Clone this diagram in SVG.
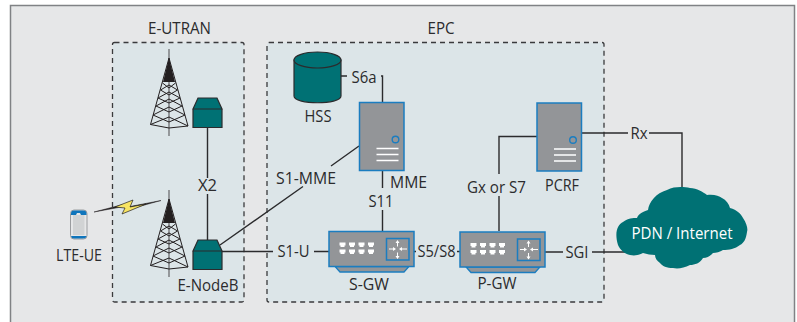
<svg xmlns="http://www.w3.org/2000/svg" width="797" height="322" viewBox="0 0 797 322">
<style>
text{font-family:"Open Sans","Noto Sans","Liberation Sans",sans-serif;font-size:16.500px;fill:#2b2b2d;text-anchor:middle}
.c{fill:none;stroke:#2b2b2d;stroke-width:1.4}
.b{fill:#dce5e8;stroke:#3a3a3c;stroke-width:1.3;stroke-dasharray:5 4}
.t{fill:#007174;stroke:#2b2b2d;stroke-width:1.2}
.tw{fill:none;stroke:#231f20;stroke-width:1}
.s{fill:#939598;stroke:#1b7dc0;stroke-width:1.5}
.w{stroke:#fff;stroke-width:1.3;fill:none}
.p{fill:#fff}
.ar{fill:none;stroke:#fff;stroke-width:1}
</style>
<defs>
<g id="tower">
<path d="M169 49V136" fill="none" stroke="#6d6e71" stroke-width="1.300"/>
<path class="tw" d="M169 58L150.500 124.500M169 58L188 126M150.500 124.500L169 128L188 126M150.500 124.500L169 117L188 126M153 115L169 122M185 115L169 122M153 115L169 107L185 115M156 106L169 112M182 106L169 112M156 106L169 99L182 106M158 98L169 103M180 98L169 103M158 98L169 92L180 98M160.500 90L169 95M177.500 90L169 95M160.500 90L169 85L177.500 90M162.500 83L169 88M175.500 83L169 88"/>
<path d="M169 58L163 82H175Z" fill="#231f20"/>
</g>
<g id="enb">
<path class="t" d="M193 109L198 98H217L222 109ZM193 109H222V127.500H193Z"/>
</g>
<g id="srv">
<rect class="s" x="0" y="0" width="44.500" height="68"/>
<circle cx="36" cy="37" r="3.300" fill="none" stroke="#1b7dc0" stroke-width="1.400"/>
<path class="w" d="M17 46H39M17 52H39M17 58H39"/>
</g>
<g id="gw">
<path d="M6 35H80L75 40.500H11Z" fill="#939598" stroke="#1b7dc0" stroke-width="1.300"/>
<rect class="s" x="0" y="0" width="85" height="35"/>
<g id="ports">
<path class="p" d="M10.500 11H16.500V14H15.500V15.500H11.500V14H10.500ZM10.500 18H16.500V21H15.500V22.500H11.500V21H10.500ZM20 11H26V14H25V15.500H21V14H20ZM20 18H26V21H25V22.500H21V21H20ZM29.500 11H35.500V14H34.500V15.500H30.500V14H29.500ZM29.500 18H35.500V21H34.500V22.500H30.500V21H29.500ZM39 11H45V14H44V15.500H40V14H39ZM39 18H45V21H44V22.500H40V21H39Z"/>
</g>
<rect x="57.500" y="7" width="22.500" height="21.500" fill="#939598" stroke="#1b7dc0" stroke-width="1.500"/>
<path class="ar" d="M68.500 9.500V15M68.500 21V26.500M60 17.500H66M72 17.500H78"/>
<path class="p" d="M68.500 8.500L66.500 11.500H70.500ZM68.500 27.500L66.500 24.500H70.500ZM67 17.500L64 15.500V19.500ZM70 17.500L73 15.500V19.500Z"/>
</g>
</defs>
<rect x="10.500" y="5.500" width="784" height="320" fill="#e6e7e8" stroke="#808285" stroke-width="1.500"/>
<rect id="e-utran-box" class="b" x="112.500" y="42.500" width="131.500" height="259.500" rx="2"/>
<rect id="epc-box" class="b" x="267" y="42.500" width="337" height="259.500" rx="2"/>
<g id="connectors">
<path class="c" d="M207.500 127V178M207.500 194V240M220 245L303 186.500M331 166L359 146M222 251.500H273M314 251.500H329M341 76H347M381 76H382.500V102M382.500 171V188M382.500 210V231M414 251.500H416M457 251.500H460M537 136.500H499V174M499 196V231M545 252H563M592 252H625M581 133H628M649 133H682V188"/>
</g>
<g id="lte-ue">
<rect x="70.500" y="210" width="16.500" height="29" rx="3.500" fill="#e6e7e8" stroke="#9a9c9f" stroke-width="1"/>
<path d="M71 215V213.500Q71 210.500 74 210.500H83.500Q86.500 210.500 86.500 213.500V215H81L80 213H77L76 215Z" fill="#0f75bc"/>
<rect x="73" y="215" width="11.500" height="20" fill="#d1d3d4"/>
<path d="M71 236H86.500Q86 238.500 83 238.500H74Q71.500 238.500 71 236Z" fill="#0f75bc"/>
<text x="79" y="261" textLength="46" lengthAdjust="spacingAndGlyphs">LTE-UE</text>
</g>
<g id="radio-link">
<path d="M94 212L123 204.500L124 206.500ZM161 200.500L130 206.500L130 209Z" fill="#231f20" stroke="#231f20" stroke-width=".5"/>
<path d="M115 207L133 200L130 207L146 204L122 214L125 208Z" fill="#f7e463" stroke="#231f20" stroke-width=".7"/>
</g>
<g id="e-utran-label"><text x="179.500" y="34" textLength="63" lengthAdjust="spacingAndGlyphs">E-UTRAN</text></g>
<g id="tower-1"><use href="#tower"/></g>
<g id="enodeb-1"><use href="#enb"/></g>
<g id="tower-2"><use href="#tower" y="141"/></g>
<g id="enodeb-2"><use href="#enb" y="142"/><text x="208" y="291" textLength="61" lengthAdjust="spacingAndGlyphs">E-NodeB</text></g>
<g id="x2-label"><text x="207.500" y="191" textLength="19" lengthAdjust="spacingAndGlyphs">X2</text></g>
<g id="epc-label"><text x="441" y="34" textLength="27" lengthAdjust="spacingAndGlyphs">EPC</text></g>
<g id="hss">
<path class="t" d="M294 60V96C294 105 341 105 341 96V60Z"/>
<ellipse class="t" cx="317.500" cy="60" rx="23.500" ry="8"/>
<text x="318" y="122" textLength="27" lengthAdjust="spacingAndGlyphs">HSS</text>
</g>
<g id="mme"><use href="#srv" x="359.500" y="102.500"/><text x="408.500" y="188" textLength="37" lengthAdjust="spacingAndGlyphs">MME</text></g>
<g id="pcrf"><use href="#srv" x="537" y="103"/><text x="562" y="191" textLength="34" lengthAdjust="spacingAndGlyphs">PCRF</text></g>
<g id="s-gw"><use href="#gw" x="329" y="231.500"/><text x="369" y="290" textLength="40" lengthAdjust="spacingAndGlyphs">S-GW</text></g>
<g id="p-gw"><use href="#gw" x="460" y="232"/><text x="497" y="289" textLength="39" lengthAdjust="spacingAndGlyphs">P-GW</text></g>
<g id="pdn">
<path fill="#007174" d="M618 245C614 232 618 224 623 222C628 218 633 218 637 218C638 215 640 213 648 210C649 202 656 193 667 190C675 186 684 187 690 188C697 188 703 192 707 195C714 194 719 196 722 198C726 200 729 204 730 208C737 210 741 214 743 218C747 224 748 229 747 232C746 239 744 243 740 245C735 249 729 250 723 250C720 252 716 253 713 253C710 256 707 258 703 258C700 263 695 265 690 265C684 268 678 269 673 268C667 268 662 266 660 263C657 261 655 258 655 255C651 255 647 254 643 253C639 255 635 256 630 255C625 254 620 250 618 245Z"/>
<text x="682" y="239" style="fill:#fff" textLength="101" lengthAdjust="spacingAndGlyphs">PDN / Internet</text>
</g>
<g id="labels">
<text x="364" y="83" textLength="25" lengthAdjust="spacingAndGlyphs">S6a</text>
<text x="306" y="184" textLength="60" lengthAdjust="spacingAndGlyphs">S1-MME</text>
<text x="293.500" y="257" textLength="32" lengthAdjust="spacingAndGlyphs">S1-U</text>
<text x="381" y="207" textLength="25" lengthAdjust="spacingAndGlyphs">S11</text>
<text x="436.500" y="257" textLength="38" lengthAdjust="spacingAndGlyphs">S5/S8</text>
<text x="496.500" y="193" textLength="59" lengthAdjust="spacingAndGlyphs">Gx or S7</text>
<text x="577" y="258" textLength="23" lengthAdjust="spacingAndGlyphs">SGI</text>
<text x="639" y="139" textLength="17" lengthAdjust="spacingAndGlyphs">Rx</text>
</g>
</svg>
